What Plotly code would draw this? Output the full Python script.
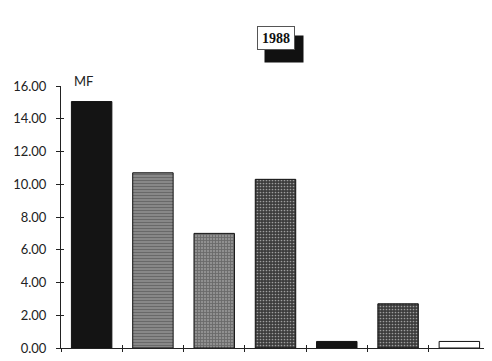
import plotly.graph_objects as go

categories = ["c1", "c2", "c3", "c4", "c5", "c6", "c7"]
values = [15.05, 10.7, 7.0, 10.3, 0.4, 2.7, 0.4]
y_ticks = [0, 2, 4, 6, 8, 10, 12, 14, 16]
y_labels = ["0.00", "2.00", "4.00", "6.00", "8.00", "10.00", "12.00", "14.00", "16.00"]
title_text = "1988"
unit_text = "MF"

fills = ["#141414", "#8e8e8e", "#909090", "#3c3c3c", "#141414", "#3c3c3c", "#ffffff"]
shapes = ["", "-", "+", ".", "", ".", ""]
fgs = ["#141414", "#252525", "#151515", "#8a8a8a", "#141414", "#8a8a8a", "#ffffff"]
sizes = [4, 3, 3, 3, 4, 3, 4]
sol = [0.3, 0.45, 0.5, 0.25, 0.3, 0.25, 0.3]

fig = go.Figure()
fig.add_trace(go.Bar(
    x=categories, y=values,
    marker=dict(
        color=fills,
        line=dict(color="#111111", width=1),
        pattern=dict(shape=shapes, fgcolor=fgs, bgcolor=fills, size=sizes, solidity=sol),
    ),
    showlegend=False,
    hoverinfo="skip",
))
# empty companion trace so the overlay axes (inner tick halves) are drawn
fig.add_trace(go.Bar(x=[], y=[], xaxis="x2", yaxis="y2", showlegend=False, hoverinfo="skip"))

font_fam = "Lato, DejaVu Sans, sans-serif"

fig.update_layout(
    width=484, height=353,
    margin=dict(l=53, r=2, t=78, b=13),
    paper_bgcolor="white", plot_bgcolor="white",
    bargap=0.34,
    xaxis=dict(
        type="category", range=[-0.5, 6.5], automargin=False,
        categoryorder="array", categoryarray=categories,
        showgrid=False, zeroline=False, showline=True, linecolor="#222222", linewidth=1,
        ticks="outside", ticklen=3, tickcolor="#222222", tickson="boundaries",
        showticklabels=False,
    ),
    xaxis2=dict(
        type="category", range=[-0.5, 6.5], automargin=False, overlaying="x",
        categoryorder="array", categoryarray=categories,
        side="bottom", anchor="y2",
        showgrid=False, zeroline=False, showline=False,
        ticks="inside", ticklen=3, tickcolor="#222222", tickson="boundaries",
        showticklabels=False,
    ),
    yaxis=dict(
        range=[0, 16], tickvals=y_ticks, ticktext=y_labels, automargin=False,
        showgrid=False, zeroline=False, showline=True, linecolor="#222222", linewidth=1,
        ticks="outside", ticklen=4, tickcolor="#222222", ticklabelstandoff=7,
        tickfont=dict(family=font_fam, size=13, color="#222222"),
    ),
    yaxis2=dict(
        range=[0, 16], tickvals=y_ticks, overlaying="y", side="left", anchor="x2",
        automargin=False, showgrid=False, zeroline=False, showline=False,
        ticks="inside", ticklen=3, tickcolor="#222222", showticklabels=False,
    ),
)

# shadow of the title box
fig.add_annotation(
    xref="paper", yref="paper", x=0.5, y=1.183, xanchor="center", yanchor="middle",
    text="&nbsp;", showarrow=False, width=38, height=26,
    font=dict(family="Liberation Serif, serif", size=14, color="#111111"),
    bgcolor="#111111", borderpad=0, xshift=8, yshift=-11,
)
# title box
fig.add_annotation(
    xref="paper", yref="paper", x=0.5, y=1.183, xanchor="center", yanchor="middle",
    text="<b>" + title_text + "</b>", showarrow=False, width=36, height=22,
    font=dict(family="Liberation Serif, serif", size=14, color="#111111"),
    bgcolor="white", bordercolor="#555555", borderwidth=1, borderpad=0,
)
fig.add_annotation(
    xref="paper", yref="paper", x=0.026, y=1.02, xanchor="left", yanchor="middle",
    text=unit_text, showarrow=False,
    font=dict(family=font_fam, size=13, color="#222222"),
)

fig.write_html("out.html")
